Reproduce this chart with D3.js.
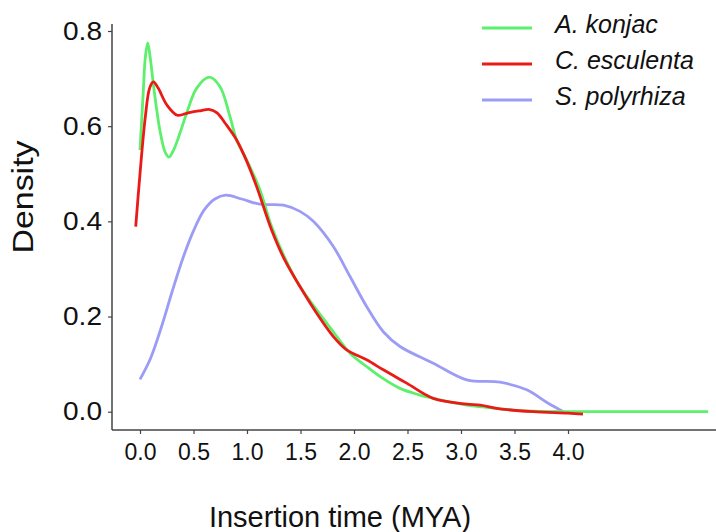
<!DOCTYPE html>
<html>
<head>
<meta charset="utf-8">
<script src="https://cdn.jsdelivr.net/npm/d3@7"></script>
<style>
  html, body { margin: 0; padding: 0; background: #fff; }
  svg { display: block; font-family: "Liberation Sans", Arial, Helvetica, sans-serif; }
</style>
</head>
<body>
<svg id="chart" width="716" height="532"></svg>
<script>
// ---- data ----
const seriesNames = ["A. konjac", "C. esculenta", "S. polyrhiza"];
const seriesColors = ["#5cf06c", "#ea1b17", "#9c9cf6"];

const konjacX = [0, 0.03, 0.05, 0.072, 0.095, 0.124, 0.156, 0.187, 0.234, 0.271, 0.32, 0.38, 0.436, 0.53, 0.648, 0.748, 0.841, 0.903, 0.997, 1.121, 1.23, 1.35, 1.495, 1.651, 1.807, 1.963, 2.118, 2.27, 2.43, 2.6, 2.741, 2.9, 3.053, 3.2, 3.364, 3.5, 3.676, 4.0, 4.5, 5.0, 5.31];
const konjacY = [0.55, 0.67, 0.745, 0.775, 0.745, 0.69, 0.635, 0.59, 0.546, 0.535, 0.553, 0.59, 0.627, 0.68, 0.703, 0.683, 0.62, 0.571, 0.529, 0.466, 0.389, 0.325, 0.263, 0.214, 0.168, 0.123, 0.095, 0.07, 0.049, 0.036, 0.028, 0.02, 0.014, 0.01, 0.006, 0.003, 0.001, 0.0, 0.0, 0.0, 0.0];

const esculentaX = [-0.04, 0.0, 0.05, 0.09, 0.125, 0.17, 0.25, 0.349, 0.45, 0.55, 0.654, 0.72, 0.8, 0.903, 1.0, 1.09, 1.23, 1.35, 1.495, 1.651, 1.807, 1.931, 2.118, 2.274, 2.492, 2.741, 3.053, 3.18, 3.364, 3.676, 4.0, 4.14];
const esculentaY = [0.389, 0.5, 0.62, 0.68, 0.693, 0.68, 0.645, 0.623, 0.628, 0.632, 0.635, 0.628, 0.605, 0.571, 0.525, 0.473, 0.382, 0.32, 0.263, 0.207, 0.158, 0.13, 0.109, 0.088, 0.06, 0.028, 0.016, 0.014, 0.006, 0.0, -0.003, -0.005];

const polyrhizaX = [0, 0.1, 0.2, 0.3, 0.4, 0.5, 0.6, 0.7, 0.8, 0.95, 1.121, 1.34, 1.495, 1.62, 1.807, 1.963, 2.118, 2.274, 2.43, 2.741, 3.053, 3.364, 3.614, 3.8, 3.957];
const polyrhizaY = [0.068, 0.113, 0.178, 0.252, 0.322, 0.38, 0.424, 0.447, 0.455, 0.447, 0.436, 0.434, 0.421, 0.4, 0.347, 0.284, 0.221, 0.168, 0.137, 0.102, 0.067, 0.062, 0.046, 0.02, 0.0];

const xTickValues = [0, 0.5, 1.0, 1.5, 2.0, 2.5, 3.0, 3.5, 4.0];
const yTickValues = [0, 0.2, 0.4, 0.6, 0.8];

const xTitle = "Insertion time (MYA)";
const yTitle = "Density";

// ---- drawing ----
const svg = d3.select("#chart");
const axisColor = "#444";

const x = d3.scaleLinear().domain([0, 4]).range([140, 568]);
const y = d3.scaleLinear().domain([0, 0.8]).range([411.7, 31]);

const plotLeft = 112, plotRight = 716, plotTop = 24, plotBottom = 430;

const series = [
  { name: seriesNames[0], color: seriesColors[0], xs: konjacX, ys: konjacY },
  { name: seriesNames[1], color: seriesColors[1], xs: esculentaX, ys: esculentaY },
  { name: seriesNames[2], color: seriesColors[2], xs: polyrhizaX, ys: polyrhizaY }
];

const line = d3.line()
  .x(d => x(d[0]))
  .y(d => y(d[1]))
  .curve(d3.curveCatmullRom.alpha(0.5));

// draw order: blue, green, red
[2, 0, 1].forEach(i => {
  const s = series[i];
  svg.append("path")
    .datum(s.xs.map((v, k) => [v, s.ys[k]]))
    .attr("fill", "none")
    .attr("stroke", s.color)
    .attr("stroke-width", 2.8)
    .attr("stroke-linejoin", "round")
    .attr("stroke-linecap", "butt")
    .attr("d", line);
});

// axes
const xAxis = d3.axisBottom(x).tickValues(xTickValues).tickFormat(d3.format(".1f"))
  .tickSize(4).tickPadding(10);
const gx = svg.append("g").attr("transform", `translate(0,${plotBottom})`).call(xAxis);
gx.select(".domain").remove();
gx.selectAll(".tick line").attr("stroke", axisColor).attr("stroke-width", 1.2);
gx.selectAll(".tick text").attr("fill", "#111").attr("font-size", 23)
  .attr("font-family", "'Liberation Sans', Arial, sans-serif");

const yAxis = d3.axisLeft(y).tickValues(yTickValues).tickFormat(d3.format(".1f"))
  .tickSize(4).tickPadding(6);
const gy = svg.append("g").attr("transform", `translate(${plotLeft},0)`).call(yAxis);
gy.select(".domain").remove();
gy.selectAll(".tick line").attr("stroke", axisColor).attr("stroke-width", 1.2);
gy.selectAll(".tick text").attr("fill", "#111").attr("font-size", 25)
  .attr("font-family", "'Liberation Sans', Arial, sans-serif")
  .attr("textLength", 39).attr("lengthAdjust", "spacingAndGlyphs");

svg.append("line").attr("x1", plotLeft).attr("x2", plotLeft).attr("y1", plotTop).attr("y2", plotBottom)
  .attr("stroke", axisColor).attr("stroke-width", 1.5);
svg.append("line").attr("x1", plotLeft).attr("x2", plotRight).attr("y1", plotBottom).attr("y2", plotBottom)
  .attr("stroke", axisColor).attr("stroke-width", 1.5);

// titles
svg.append("text").attr("x", 340).attr("y", 527).attr("text-anchor", "middle")
  .attr("font-size", 29).attr("fill", "#111").text(xTitle);
svg.append("text").attr("transform", "translate(33,197) rotate(-90)").attr("text-anchor", "middle")
  .attr("font-size", 30).attr("fill", "#111")
  .attr("textLength", 113).attr("lengthAdjust", "spacingAndGlyphs").text(yTitle);

// legend
const legend = svg.append("g");
series.forEach((s, i) => {
  const base = 33 + i * 36;
  legend.append("line").attr("x1", 482).attr("x2", 532).attr("y1", base - 5).attr("y2", base - 5)
    .attr("stroke", s.color).attr("stroke-width", 2.8);
  legend.append("text").attr("x", 555).attr("y", base)
    .attr("font-size", 25).attr("font-style", "italic").attr("fill", "#111").text(s.name);
});
</script>
</body>
</html>
